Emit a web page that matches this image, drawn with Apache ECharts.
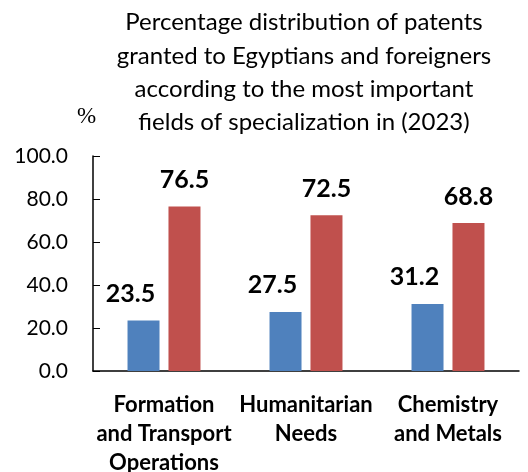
<!DOCTYPE html>
<html><head><meta charset="utf-8">
<script src="https://cdn.jsdelivr.net/npm/echarts@6/dist/echarts.min.js"></script>
<style>html,body{margin:0;padding:0;background:#fff}#c{width:528px;height:472px}</style>
</head><body><div id="c"></div>
<script>
const categories = ['Formation\nand Transport\nOperations', 'Humanitarian\nNeeds', 'Chemistry\nand Metals'];
const egyptians = [23.5, 27.5, 31.2];
const foreigners = [76.5, 72.5, 68.8];
const yTicks = [0, 20, 40, 60, 80, 100];
const titleText = 'Percentage distribution of patents\ngranted to Egyptians and foreigners\naccording to the most important\nfields of specialization in (2023)';

const chart = echarts.init(document.getElementById('c'));
chart.setOption({
  animation: false,
  backgroundColor: '#fff',
  title: [{
    text: titleText, left: 299, top: 1, textAlign: 'center',
    textStyle: {fontFamily: 'Lato', fontWeight: 'normal', fontSize: 24, lineHeight: 33.3, color: '#000'}
  }, {
    text: '%', left: 72, top: 100,
    textStyle: {fontFamily: 'Liberation Serif', fontWeight: 'normal', fontSize: 23, color: '#000'}
  }],
  grid: {left: 93, right: 9, top: 156, bottom: 101, outerBoundsMode: 'none', containLabel: false},
  xAxis: {
    type: 'category', data: categories,
    axisLine: {lineStyle: {color: '#000', width: 1.5}},
    axisTick: {inside: true, length: 6, lineStyle: {color: '#000'}},
    axisLabel: {fontFamily: 'Lato', fontWeight: 'bold', fontSize: 22, lineHeight: 29, color: '#000', margin: 19, interval: 0}
  },
  yAxis: {
    type: 'value', min: yTicks[0], max: yTicks[yTicks.length - 1], interval: 20,
    splitLine: {show: false},
    axisLine: {show: true, lineStyle: {color: '#000', width: 1.5}},
    axisTick: {show: true, inside: true, length: 7, lineStyle: {color: '#000'}},
    axisLabel: {fontFamily: 'Lato', fontSize: 21, color: '#000', margin: 25, formatter: v => v.toFixed(1)}
  },
  series: [{
    type: 'bar', data: egyptians, barWidth: 32, barGap: '28%',
    itemStyle: {color: '#4F81BD'},
    label: {show: true, position: 'top', distance: 14, offset: [-13, 0], fontFamily: 'Lato', fontWeight: 'bold', fontSize: 25, color: '#000', formatter: p => p.value.toFixed(1)}
  }, {
    type: 'bar', data: foreigners, barWidth: 32,
    itemStyle: {color: '#C0504D'},
    label: {show: true, position: 'top', distance: 14, fontFamily: 'Lato', fontWeight: 'bold', fontSize: 25, color: '#000', formatter: p => p.value.toFixed(1)}
  }]
});
</script></body></html>
